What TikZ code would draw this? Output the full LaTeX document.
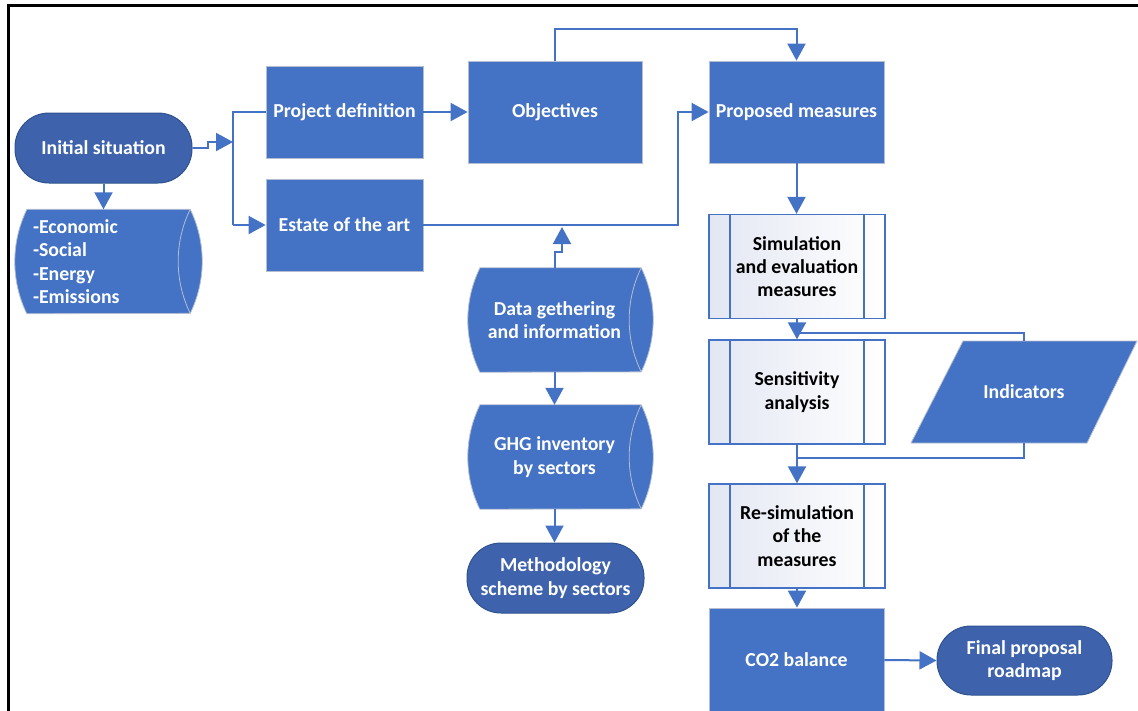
\documentclass[tikz,border=0pt]{standalone}
\usepackage{fontspec}
\setmainfont{Carlito}
\usetikzlibrary{arrows.meta,backgrounds,calc}

\definecolor{flowblue}{HTML}{4472C4}
\definecolor{termblue}{HTML}{3E63AC}
\definecolor{termedge}{HTML}{2F528F}
\definecolor{boxedge}{HTML}{B4BED2}
\definecolor{subleft}{HTML}{E3E7F3}

% horizontal "direct data" cylinder behind a node: curved left end,
% full round end on the right (circular arcs of radius 118.7pt, half-angle 26)
\newcommand\cylinderbody[1]{%
  \path[cylfill] ([xshift=12pt]#1.north west) -- (#1.north east)
    arc[start angle=26, end angle=-26, radius=118.7pt]
    -- ([xshift=12pt]#1.south west)
    arc[start angle=206, end angle=154, radius=118.7pt] -- cycle;
  \draw[boxedge, line width=0.8pt] (#1.north east)
    arc[start angle=154, end angle=206, radius=118.7pt];}

\begin{document}
\begin{tikzpicture}[x=1pt,y=-1pt,
  every node/.style={font=\fontsize{19.8}{23.3}\selectfont\bfseries, align=center, inner sep=0pt},
  procbox/.style={rectangle, fill=flowblue, draw=boxedge, line width=0.8pt, text=white},
  terminal/.style={rectangle, rounded corners=34pt, fill=termblue, draw=termedge,
    line width=1pt, text=white, minimum width=177pt, minimum height=70pt},
  datastore/.style={rectangle, text=white, minimum height=104pt},
  cylfill/.style={fill=flowblue, draw=boxedge, line width=0.8pt},
  subproc/.style={rectangle, draw=flowblue, line width=1.3pt, left color=subleft,
    right color=white, text=black, minimum width=176pt, minimum height=104pt,
    path picture={\draw[flowblue, line width=1.3pt]
      ([xshift=21pt]path picture bounding box.north west) -- ([xshift=21pt]path picture bounding box.south west)
      ([xshift=-21pt]path picture bounding box.north east) -- ([xshift=-21pt]path picture bounding box.south east);}},
  flowline/.style={draw=flowblue, line width=2pt},
  flowarrow/.style={flowline, -{Triangle[length=17pt,width=18pt]}},
]
\useasboundingbox (0,0) rectangle (1138,710);

% frame
\draw[line width=2.8pt] (8.8,712) -- (8.8,5.8) -- (1140,5.8);

% nodes
\node[terminal] (init) at (103.5,148) {Initial situation};
\node[datastore, minimum width=175pt, text width=139pt, inner xsep=18pt, align=left]
  (econ) at (102.5,261.5) {-Economic\\-Social\\-Energy\\-Emissions};
\node[procbox, minimum width=157pt, minimum height=92pt] (pd) at (344.5,112) {Project definition};
\node[procbox, minimum width=157pt, minimum height=92pt] (est) at (344.5,225) {Estate of the art};
\node[procbox, minimum width=174pt, minimum height=102pt] (obj) at (555,112) {Objectives};
\node[procbox, minimum width=175pt, minimum height=102pt] (pm) at (796.5,112) {Proposed measures};
\node[datastore, minimum width=173pt] (data) at (554.5,320) {Data gethering\\and information};
\node[datastore, minimum width=173pt] (ghg) at (554.5,457) {GHG inventory\\by sectors};
\node[terminal] (meth) at (555.5,578) {Methodology\\scheme by sectors};
\node[subproc] (sim) at (797,266.5) {Simulation\\and evaluation\\measures};
\node[subproc] (sens) at (797,392) {Sensitivity\\analysis};
\node[subproc] (res) at (797,536) {Re-simulation\\of the\\measures};
\node[procbox, minimum width=175pt, minimum height=104pt] (co2) at (796.5,660) {CO2 balance};
\node[terminal, minimum width=175pt, minimum height=69pt] (fin) at (1024.5,660.5) {Final proposal\\roadmap};
\node[rectangle, minimum width=174pt, minimum height=102pt, text=white] (ind) at (1024,392) {Indicators};

\begin{pgfonlayer}{background}
  \cylinderbody{econ}
  \cylinderbody{data}
  \cylinderbody{ghg}
  \path[cylfill] (963,341) -- (1137,341) -- (1087,443) -- (911,443) -- cycle;
\end{pgfonlayer}

% connectors
\coordinate (split) at (233,142);
\coordinate (bt) at (233,112);
\coordinate (bb) at (233,225);
\coordinate (ej) at (678,225);
\coordinate (dj) at (562,227);
\coordinate (j1) at (797,333);
\coordinate (j2) at (797,458);

\draw[flowarrow] (init.east) -- ++(15,0) |- (split);
\draw[flowline] (pd.west) -- (bt) -- (bb);
\draw[flowarrow] (bb) -- (est.west);
\draw[flowarrow] (init.south) -- (init.south |- econ.north);
\draw[flowarrow] (pd.east) -- (obj.west);
\draw[flowarrow] (obj.north) -- ++(0,-32) -| (pm.north);
\draw[flowarrow] (est.east) -- (ej) |- (pm.west);
\draw[flowarrow] (data.north) -- ++(0,-16) -| (dj);
\draw[flowarrow] (data.south) -- (ghg.north);
\draw[flowarrow] (ghg.south) -- (ghg.south |- meth.north);
\draw[flowarrow] (pm.south) -- (pm.south |- sim.north);
\draw[flowarrow] (sim.south) -- (sens.north);
\draw[flowline] (ind.north) |- (j1);
\draw[flowline] (ind.south) |- (j2);
\draw[flowarrow] (sens.south) -- (res.north);
\draw[flowarrow] (res.south) -- (res.south |- co2.north);
\draw[flowarrow] (co2.east) -- (fin.west);
\end{tikzpicture}
\end{document}
